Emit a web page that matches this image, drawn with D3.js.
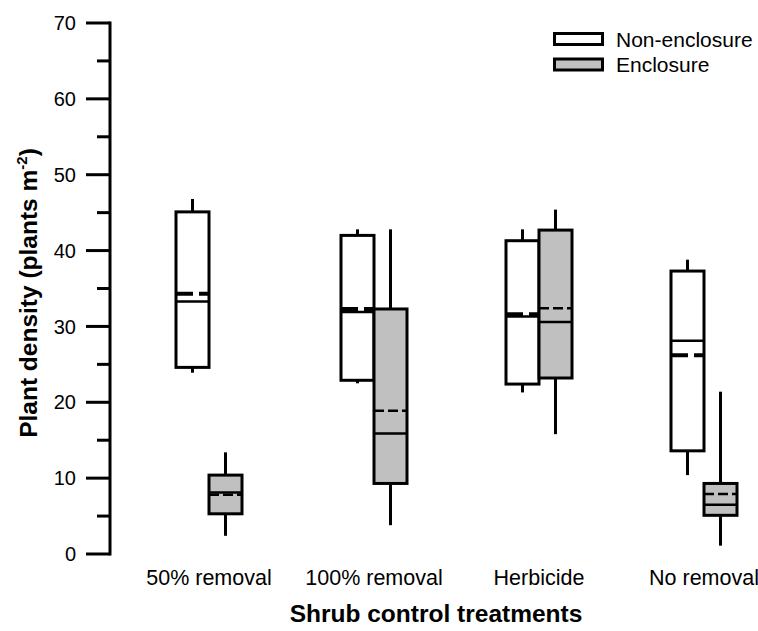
<!DOCTYPE html>
<html>
<head>
<meta charset="utf-8">
<script src="https://cdn.jsdelivr.net/npm/d3@7"></script>
<style>
  html, body { margin: 0; padding: 0; background: #fff; }
  svg { display: block; }
  text { font-family: "Liberation Sans", Arial, sans-serif; fill: #000; }
</style>
</head>
<body>
<svg id="chart" width="758" height="631"></svg>
<script>
// ---------- data ----------
const categories = ["50% removal", "100% removal", "Herbicide", "No removal"];
const seriesNames = ["Non-enclosure", "Enclosure"];
const yTicks = [0, 10, 20, 30, 40, 50, 60, 70];
const yMinorTicks = [5, 15, 25, 35, 45, 55, 65];

// per category: whisker low, Q1, median, Q3, whisker high, mean
const nonEnclosureLow    = [23.9, 22.5, 21.3, 10.4];
const nonEnclosureQ1     = [24.6, 22.9, 22.4, 13.6];
const nonEnclosureMedian = [33.3, 31.9, 31.3, 28.1];
const nonEnclosureQ3     = [45.1, 42.0, 41.3, 37.3];
const nonEnclosureHigh   = [46.8, 42.8, 42.8, 38.8];
const nonEnclosureMean   = [34.3, 32.3, 31.6, 26.2];

const enclosureLow    = [2.4, 3.8, 15.8, 1.1];
const enclosureQ1     = [5.3, 9.3, 23.2, 5.1];
const enclosureMedian = [8.1, 15.9, 30.6, 6.5];
const enclosureQ3     = [10.4, 32.3, 42.7, 9.3];
const enclosureHigh   = [13.4, 42.8, 45.4, 21.4];
const enclosureMean   = [7.8, 18.9, 32.4, 7.9];

// ---------- build ----------
function buildBoxes(series, low, q1, med, q3, high, mean) {
  return categories.map((c, i) => ({
    category: c, series,
    low: low[i], q1: q1[i], median: med[i], q3: q3[i], high: high[i], mean: mean[i]
  }));
}
const boxes = [
  ...buildBoxes("Non-enclosure", nonEnclosureLow, nonEnclosureQ1, nonEnclosureMedian, nonEnclosureQ3, nonEnclosureHigh, nonEnclosureMean),
  ...buildBoxes("Enclosure", enclosureLow, enclosureQ1, enclosureMedian, enclosureQ3, enclosureHigh, enclosureMean)
];

const svg = d3.select("#chart");

const y = d3.scaleLinear().domain([0, 70]).range([554, 23]);
const x = d3.scalePoint().domain(categories).range([209, 704]);
const xs = d3.scaleBand().domain(seriesNames).range([-33, 33]).padding(0);
const fill = d3.scaleOrdinal().domain(seriesNames).range(["#ffffff", "#c0c0c0"]);

const axisX = 110;

// y axis
const yAxis = svg.append("g").attr("transform", `translate(${axisX},0)`);
yAxis.append("line")
  .attr("x1", 0).attr("x2", 0)
  .attr("y1", y(0) + 1.5).attr("y2", y(70) - 1.5)
  .attr("stroke", "#000").attr("stroke-width", 3);
yAxis.selectAll("line.major").data(yTicks).join("line")
  .attr("class", "major")
  .attr("x1", -24).attr("x2", 0)
  .attr("y1", d => y(d)).attr("y2", d => y(d))
  .attr("stroke", "#000").attr("stroke-width", 3);
yAxis.selectAll("line.minor").data(yMinorTicks).join("line")
  .attr("class", "minor")
  .attr("x1", -13).attr("x2", 0)
  .attr("y1", d => y(d)).attr("y2", d => y(d))
  .attr("stroke", "#000").attr("stroke-width", 3);
yAxis.selectAll("text.tick").data(yTicks).join("text")
  .attr("class", "tick")
  .attr("x", -34).attr("y", d => y(d))
  .attr("dy", "0.36em")
  .attr("text-anchor", "end")
  .attr("font-size", 20)
  .text(d => d);

// y title
const yTitle = svg.append("text")
  .attr("transform", `translate(37,${293}) rotate(-90)`)
  .attr("text-anchor", "middle")
  .attr("font-size", 24.5)
  .attr("font-weight", "bold");
yTitle.append("tspan").text("Plant density (plants m");
yTitle.append("tspan").attr("font-size", 15).attr("dy", -10).text("-2");
yTitle.append("tspan").attr("dy", 10).text(")");

// category labels
svg.selectAll("text.cat").data(categories).join("text")
  .attr("class", "cat")
  .attr("x", d => x(d)).attr("y", 585)
  .attr("text-anchor", "middle")
  .attr("font-size", 21.5)
  .text(d => d);

// x title
svg.append("text")
  .attr("x", 436).attr("y", 622)
  .attr("text-anchor", "middle")
  .attr("font-size", 24.5)
  .attr("font-weight", "bold")
  .text("Shrub control treatments");

// boxes
const g = svg.append("g");
const bw = xs.bandwidth();
const items = g.selectAll("g.box").data(boxes).join("g")
  .attr("class", "box")
  .attr("transform", d => `translate(${x(d.category) + xs(d.series)},0)`);

// whiskers
items.append("line")
  .attr("x1", bw / 2).attr("x2", bw / 2)
  .attr("y1", d => y(d.high)).attr("y2", d => y(d.q3))
  .attr("stroke", "#000").attr("stroke-width", 3);
items.append("line")
  .attr("x1", bw / 2).attr("x2", bw / 2)
  .attr("y1", d => y(d.q1)).attr("y2", d => y(d.low))
  .attr("stroke", "#000").attr("stroke-width", 3);
// box
items.append("rect")
  .attr("x", 0).attr("width", bw)
  .attr("y", d => y(d.q3))
  .attr("height", d => y(d.q1) - y(d.q3))
  .attr("fill", d => fill(d.series))
  .attr("stroke", "#000").attr("stroke-width", 3);
// median
items.append("line")
  .attr("x1", 0).attr("x2", bw)
  .attr("y1", d => y(d.median)).attr("y2", d => y(d.median))
  .attr("stroke", "#000").attr("stroke-width", 2.5);
// mean (dashed)
items.append("line")
  .attr("x1", d => d.series === "Non-enclosure" ? -1 : 0)
  .attr("x2", d => d.series === "Non-enclosure" ? bw + 1 : bw)
  .attr("y1", d => y(d.mean)).attr("y2", d => y(d.mean))
  .attr("stroke", "#000")
  .attr("stroke-width", d => d.series === "Non-enclosure" ? 4 : 2.5)
  .attr("stroke-dasharray", d => d.series === "Non-enclosure" ? "18,6" : "10,4");

// legend
const legend = svg.append("g").attr("transform", "translate(553,32)");
const li = legend.selectAll("g").data(seriesNames).join("g")
  .attr("transform", (d, i) => `translate(0,${i * 25.5})`);
li.append("rect")
  .attr("x", 1.5).attr("y", 1.5).attr("width", 48).attr("height", 11)
  .attr("fill", d => fill(d))
  .attr("stroke", "#000").attr("stroke-width", 3);
li.append("text")
  .attr("x", 63).attr("y", 7)
  .attr("dy", "0.36em")
  .attr("font-size", 21)
  .text(d => d);
</script>
</body>
</html>
